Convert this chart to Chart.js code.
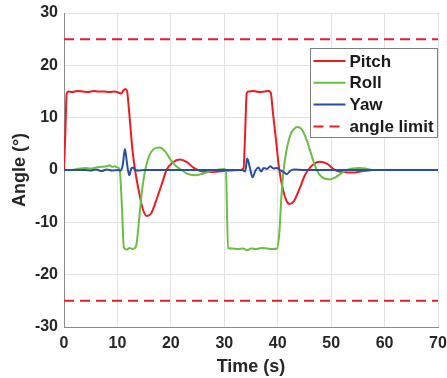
<!DOCTYPE html>
<html>
<head>
<meta charset="utf-8">
<script src="https://cdn.jsdelivr.net/npm/chart.js@4/dist/chart.umd.min.js"></script>
<style>
  html, body { margin: 0; padding: 0; background: #fff; }
  canvas { display: block; }
</style>
</head>
<body>
<canvas id="angleChart" width="447" height="378"></canvas>
<script>
// 姿勢角の時系列データ (時間[s], 角度[°])
const pitchTime = [0, 0.25, 0.5, 0.8, 1.5, 2.5, 3.5, 4.5, 5.5, 6.5, 7.5, 8.5, 9.5, 10.2, 10.7, 11.1, 11.5, 11.8, 12.2, 12.8, 13.3, 14, 14.7, 15.5, 16.3, 17.2, 18.2, 19.2, 20.3, 21.7, 23, 24.3, 25.5, 27, 29, 31, 33, 33.6, 33.9, 34.2, 34.6, 35.5, 36.5, 37.5, 38.3, 38.7, 39.1, 39.7, 40.3, 41, 41.6, 42.2, 43, 44, 45, 45.7, 46.8, 47.9, 49.2, 50.7, 52.3, 54, 56, 58, 60, 65, 70];
const pitchAngle = [0, 7, 14.6, 15.0, 14.9, 15.1, 15.0, 14.9, 15.1, 15.0, 15.0, 14.9, 15.0, 14.8, 14.6, 15.2, 15.5, 15.1, 11, 4, 0, -4, -7.3, -8.8, -8.3, -6, -3, 0, 1.4, 2.0, 1.5, 0.4, -0.2, -0.4, -0.3, -0.1, 0, 0.3, 7, 14.7, 15.0, 15.1, 14.9, 15.0, 15.1, 14.8, 11, 5.5, 0, -3.8, -5.8, -6.5, -6, -3.8, -1.2, 0, 1.2, 1.6, 1.2, 0, -0.4, -0.5, -0.2, 0, 0, 0, 0];

const rollTime = [0, 1, 2, 3, 4, 5, 6, 7, 8, 8.5, 9, 9.5, 10, 10.4, 10.8, 11.2, 11.8, 12.3, 12.8, 13.3, 13.6, 14.1, 14.6, 15.2, 15.9, 16.8, 17.9, 18.9, 20, 21, 22, 23, 24.5, 26, 27.5, 29, 30, 30.3, 30.7, 31.5, 32.5, 33.5, 34.3, 35, 36, 37, 38, 39, 39.9, 40.3, 40.7, 41.1, 41.6, 42.3, 43, 43.8, 44.6, 45.5, 46.4, 47.3, 48.2, 49.8, 50.8, 51.8, 52.9, 54, 55.4, 56.8, 58, 60, 70];
const rollAngle = [0, 0, 0.1, 0.3, 0.4, 0.3, 0.5, 0.6, 0.7, 0.9, 0.6, 0.7, 0.5, 0.2, -6, -14.8, -15.2, -14.9, -15.1, -14.9, -14, -9, -4, 0, 2.6, 4.0, 4.3, 3.6, 1.9, 0.7, 0, -0.7, -1.0, -0.7, -0.2, 0.1, 0.2, 0, -14.9, -15.0, -15.1, -15.0, -15.3, -15.0, -15.1, -14.9, -15.0, -15.1, -15.0, -12, -5, 0, 3.5, 6.5, 7.8, 8.2, 7.6, 5.5, 2.6, 0, -1.3, -1.8, -1.4, -0.7, 0, 0.3, 0.4, 0.2, 0, 0, 0];

const yawTime = [0, 4, 5, 6, 7, 8, 9, 10, 10.6, 11, 11.4, 11.8, 12.2, 12.6, 12.9, 13.3, 14, 15, 33.4, 33.9, 34.3, 34.8, 35.3, 35.8, 36.4, 36.9, 37.4, 38, 38.6, 39.2, 39.8, 40.4, 41, 41.7, 42.3, 43, 45, 70];
const yawAngle = [0, 0, -0.1, 0.1, -0.2, 0.1, -0.1, 0, -0.1, 1.0, 4.0, 1.2, -1.0, 0.3, 0.5, 0, -0.1, 0, 0, -0.3, 2.2, 0.4, -1.4, -0.2, 0.5, -0.3, 0.4, 0.2, 0.7, 0.3, 0.4, 0, -0.3, -0.8, -0.2, 0.1, 0, 0];

// 角度制限 ±25°
const limitTime = [0, 70];
const limitUpper = [25, 25];
const limitLower = [-25, -25];

const legendLabels = ['Pitch', 'Roll', 'Yaw', 'angle limit'];
const xTicks = [0, 10, 20, 30, 40, 50, 60, 70];
const yTicks = [-30, -20, -10, 0, 10, 20, 30];

const RED = '#ec1c24';
const GREEN = '#6cbd45';
const BLUE = '#2a4ea0';

// 時間と値の配列を {x, y} に変換
function toPoints(times, values) {
    return times.map((t, i) => ({ x: t, y: values[i] }));
}

// 枠付きの凡例をプロット内右上に描く
const boxLegend = {
    id: 'boxLegend',
    afterDatasetsDraw(chart) {
        const ctx = chart.ctx;
        const area = chart.chartArea;
        const w = 127, h = 89;
        const left = Math.round(area.right - w - 1) + 0.5;
        const top = Math.round(area.top + 35) + 0.5;
        ctx.save();
        ctx.fillStyle = '#ffffff';
        ctx.fillRect(left, top, w, h);
        ctx.strokeStyle = '#808080';
        ctx.lineWidth = 1;
        ctx.strokeRect(left, top, w, h);
        ctx.font = 'bold 17px "Liberation Sans", Arial, sans-serif';
        ctx.textBaseline = 'middle';
        ctx.fillStyle = '#1a1a1a';
        legendLabels.forEach((label, i) => {
            const ds = chart.data.datasets[i];
            const y = top + 12.5 + i * 21.8;
            ctx.beginPath();
            ctx.strokeStyle = ds.borderColor;
            ctx.lineWidth = 2;
            ctx.setLineDash(ds.borderDash || []);
            ctx.moveTo(left + 3, y);
            ctx.lineTo(left + 35, y);
            ctx.stroke();
            ctx.setLineDash([]);
            ctx.fillText(label, left + 39, y + 1);
        });
        ctx.restore();
    }
};

const ctx = document.getElementById('angleChart').getContext('2d');
new Chart(ctx, {
    type: 'line',
    data: {
        datasets: [
            { label: legendLabels[0], data: toPoints(pitchTime, pitchAngle), borderColor: RED, order: 3 },
            { label: legendLabels[1], data: toPoints(rollTime, rollAngle), borderColor: GREEN, order: 2 },
            { label: legendLabels[2], data: toPoints(yawTime, yawAngle), borderColor: BLUE, order: 1 },
            { label: legendLabels[3], data: toPoints(limitTime, limitUpper), borderColor: RED, borderDash: [10, 6], order: 0 },
            { label: legendLabels[3], data: toPoints(limitTime, limitLower), borderColor: RED, borderDash: [10, 6], order: 0 }
        ]
    },
    options: {
        responsive: false,
        animation: false,
        devicePixelRatio: 1,
        layout: { padding: { left: 0, right: 9, top: 13, bottom: 0 } },
        elements: {
            point: { radius: 0 },
            line: { borderWidth: 2, cubicInterpolationMode: 'monotone', fill: false }
        },
        plugins: {
            legend: { display: false },
            tooltip: { enabled: false }
        },
        scales: {
            x: {
                type: 'linear',
                min: 0,
                max: 70,
                afterBuildTicks: (scale) => { scale.ticks = xTicks.map(v => ({ value: v })); },
                afterFit: (scale) => {
                    scale.height = 51;
                    // 右端の "70" がはみ出しても描画領域を縮めない
                    scale.paddingRight = 0;
                    scale.paddingLeft = 0;
                },
                ticks: {
                    padding: 7,
                    color: '#262626',
                    font: { family: '"Liberation Sans", Arial, sans-serif', size: 16, weight: 'bold' }
                },
                grid: { color: '#e3e3e3', drawTicks: false },
                border: { color: '#8a8a8a', width: 1 },
                title: {
                    display: true,
                    text: 'Time (s)',
                    color: '#262626',
                    padding: { top: 0, bottom: 0 },
                    font: { family: '"Liberation Sans", Arial, sans-serif', size: 18, weight: 'bold' }
                }
            },
            y: {
                type: 'linear',
                min: -30,
                max: 30,
                afterBuildTicks: (scale) => { scale.ticks = yTicks.map(v => ({ value: v })); },
                afterFit: (scale) => {
                    scale.width = 64;
                    scale.paddingTop = 0;
                    scale.paddingBottom = 0;
                },
                ticks: {
                    padding: 6,
                    color: '#262626',
                    font: { family: '"Liberation Sans", Arial, sans-serif', size: 16, weight: 'bold' }
                },
                grid: { color: '#e3e3e3', drawTicks: false },
                border: { color: '#8a8a8a', width: 1 },
                title: {
                    display: true,
                    text: 'Angle (°)',
                    color: '#262626',
                    padding: { top: 9, bottom: 0 },
                    font: { family: '"Liberation Sans", Arial, sans-serif', size: 18, weight: 'bold' }
                }
            }
        }
    },
    plugins: [boxLegend]
});
</script>
</body>
</html>
